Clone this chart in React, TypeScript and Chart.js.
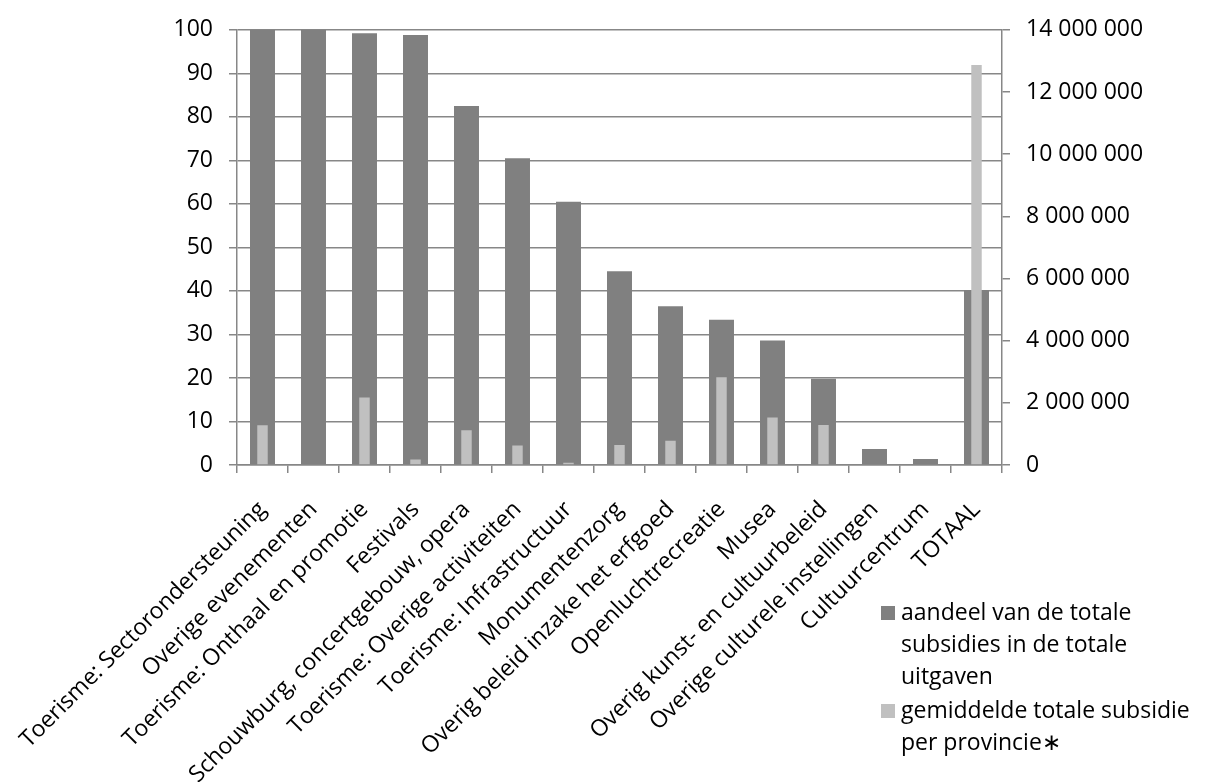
import React, { useEffect, useRef } from "react";
import { Chart, registerables } from "chart.js";

Chart.register(...registerables);

const categories = [
  "Toerisme: Sectorondersteuning",
  "Overige evenementen",
  "Toerisme: Onthaal en promotie",
  "Festivals",
  "Schouwburg, concertgebouw, opera",
  "Toerisme: Overige activiteiten",
  "Toerisme: Infrastructuur",
  "Monumentenzorg",
  "Overig beleid inzake het erfgoed",
  "Openluchtrecreatie",
  "Musea",
  "Overig kunst- en cultuurbeleid",
  "Overige culturele instellingen",
  "Cultuurcentrum",
  "TOTAAL",
];

const aandeel = [100, 100, 99.2, 98.8, 82.5, 70.5, 60.5, 44.5, 36.5, 33.4, 28.6, 19.8, 3.7, 1.4, 40.2];

const gemiddelde = [
  1280000, 0, 2170000, 180000, 1120000, 630000, 70000, 640000, 780000, 2820000, 1530000, 1290000, 0, 0,
  12870000,
];

const legendItems = [
  { color: "#808080", lines: ["aandeel van de totale", "subsidies in de totale", "uitgaven"] },
  { color: "#c0c0c0", lines: ["gemiddelde totale subsidie", "per provincie\u2217"] },
];

const FONT = "'Open Sans', 'DejaVu Sans', sans-serif";
const GRID = "#878787";

function fmtSpace(v: number): string {
  return String(Math.round(v)).replace(/\B(?=(\d{3})+(?!\d))/g, " ");
}

export default function App() {
  const ref = useRef<HTMLCanvasElement | null>(null);

  useEffect(() => {
    if (!ref.current) return;
    const chart = new Chart(ref.current, {
      type: "bar",
      data: {
        labels: categories,
        datasets: [
          {
            label: "aandeel van de totale subsidies in de totale uitgaven",
            data: aandeel,
            backgroundColor: "#808080",
            yAxisID: "y",
            grouped: false,
            order: 1,
            barPercentage: 0.49,
            categoryPercentage: 1,
          },
          {
            label: "gemiddelde totale subsidie per provincie*",
            data: gemiddelde,
            backgroundColor: "#c0c0c0",
            yAxisID: "y2",
            grouped: false,
            order: 0,
            barPercentage: 0.205,
            categoryPercentage: 1,
          },
        ],
      },
      options: {
        animation: false,
        responsive: false,
        maintainAspectRatio: false,
        layout: { padding: { top: 28, left: 0, right: 0, bottom: 0 } },
        plugins: {
          legend: { display: false },
          tooltip: { enabled: false },
        },
        scales: {
          x: {
            offset: true,
            grid: {
              display: true,
              drawOnChartArea: false,
              drawTicks: true,
              tickLength: 8,
              color: GRID,
              lineWidth: 1.5,
              offset: true,
            },
            border: { display: true, color: GRID, width: 1.5 },
            ticks: {
              autoSkip: false,
              maxRotation: 45,
              minRotation: 45,
              padding: 23,
              color: "#000",
              font: { family: FONT, size: 23 },
            },
            afterFit: (scale: any) => {
              scale.height = 317;
              scale.paddingLeft = 0;
              scale.paddingRight = 0;
            },
          },
          y: {
            position: "left",
            min: 0,
            max: 100,
            ticks: {
              stepSize: 10,
              padding: 16,
              color: "#000",
              font: { family: FONT, size: 23 },
            },
            grid: { color: GRID, lineWidth: 1.5, tickLength: 8, drawTicks: true },
            border: { display: true, color: GRID, width: 1.5 },
            afterFit: (scale: any) => {
              scale.width = 237;
            },
          },
          y2: {
            position: "right",
            min: 0,
            max: 14000000,
            ticks: {
              stepSize: 2000000,
              padding: 16,
              color: "#000",
              font: { family: FONT, size: 23 },
              callback: (v: any) => fmtSpace(Number(v)),
            },
            grid: { drawOnChartArea: false, color: GRID, lineWidth: 1.5, tickLength: 8, drawTicks: true },
            border: { display: true, color: GRID, width: 1.5 },
            afterFit: (scale: any) => {
              scale.width = 203;
            },
          },
        },
      },
    });
    return () => chart.destroy();
  }, []);

  return (
    <div style={{ position: "absolute", left: 0, top: 0, width: 1205, height: 782, background: "#fff" }}>
      <canvas ref={ref} width={1205} height={782} style={{ width: 1205, height: 782, display: "block" }} />
      <div
        style={{
          position: "absolute",
          left: 881,
          top: 595,
          fontFamily: FONT,
          fontSize: 23,
          lineHeight: "32px",
          color: "#000",
        }}
      >
        {legendItems.map((it, i) => (
          <div key={i} style={{ position: "relative", paddingLeft: 20, marginBottom: i === 0 ? 2 : 0 }}>
            <span
              style={{
                position: "absolute",
                left: 0,
                top: 11,
                width: 14,
                height: 14,
                background: it.color,
              }}
            />
            {it.lines.map((l, j) => (
              <div key={j} style={{ whiteSpace: "nowrap" }}>
                {l}
              </div>
            ))}
          </div>
        ))}
      </div>
    </div>
  );
}
